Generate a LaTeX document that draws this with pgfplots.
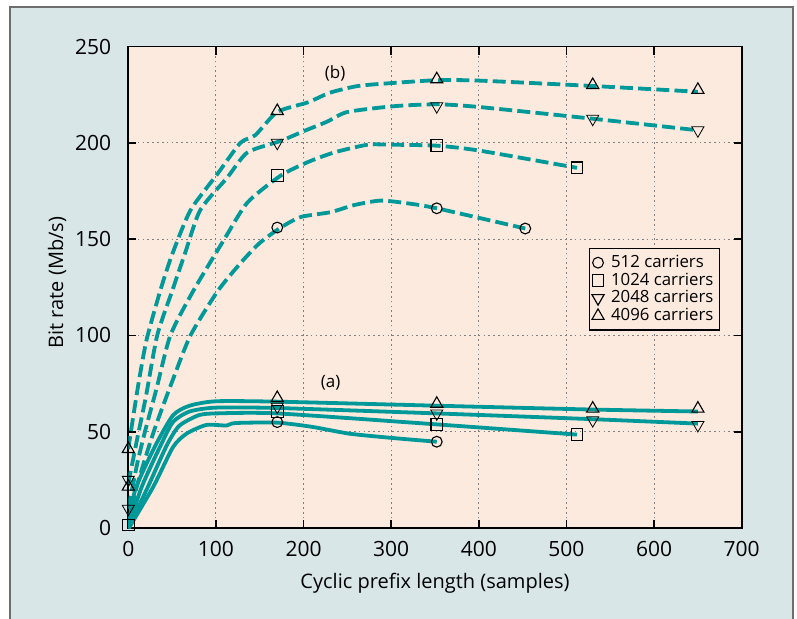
\documentclass[border=0pt]{standalone}
\usepackage{fontspec}
\setmainfont{Open Sans}
\usepackage{pgfplots}
\pgfplotsset{compat=1.18}

\definecolor{panel}{RGB}{217,230,232}
\definecolor{plotbg}{RGB}{251,234,221}
\definecolor{cpteal}{RGB}{0,153,153}
\definecolor{framegray}{RGB}{110,110,110}

\pgfplotsset{
  bline/.style={cpteal, line width=1.9pt, smooth, tension=0.4, dash pattern=on 6.5pt off 2.6pt, forget plot},
  aline/.style={cpteal, line width=1.9pt, smooth, tension=0.4, forget plot},
  mk/.style={only marks, mark options={fill=white, draw=black, line width=0.55pt, solid}},
}

\begin{document}
\begin{tikzpicture}
\path[use as bounding box, fill=white] (-64.15pt,-45pt) rectangle (334.35pt,264pt);
\fill[panel] (-59.15pt,-46pt) rectangle (332.35pt,260.5pt);
\draw[framegray, line width=0.75pt] (-59.15pt,-46pt) -- (-59.15pt,260.5pt) -- (332.35pt,260.5pt) -- (332.35pt,-46pt);
\begin{axis}[
  at={(0pt,0pt)}, anchor=south west,
  width=306.7pt, height=240.75pt, scale only axis,
  xmin=0, xmax=700, ymin=0, ymax=250,
  xtick={0,100,...,700}, ytick={0,50,...,250},
  tick align=inside, major tick length=4pt,
  grid=major,
  major grid style={gray, line width=0.5pt, dash pattern=on 0.8pt off 1.6pt},
  axis background/.style={fill=plotbg},
  axis line style={line width=0.8pt},
  every tick/.style={black, line width=0.8pt},
  ticklabel style={font=\fontsize{10.5}{12}\selectfont},
  /pgf/number format/assume math mode=true,
  xticklabel style={yshift=-3pt},
  yticklabel style={xshift=-5pt},
  xlabel={Cyclic prefix length (samples)},
  ylabel={Bit rate (Mb/s)},
  label style={font=\fontsize{10}{12}\selectfont},
  xlabel style={at={(axis description cs:0.5,-0.114)}, anchor=center},
  ylabel style={at={(axis description cs:-0.116,0.51)}, anchor=center},
  legend style={at={(rel axis cs:0.751,0.5815)}, anchor=north west,
    fill=plotbg, draw=black, line width=0.6pt,
    font=\fontsize{8.4}{9}\selectfont, inner sep=1.2pt, row sep=-2.8pt,
    /tikz/every odd column/.append style={column sep=1.5pt}},
  legend cell align=left,
]
% (b) dashed curves
\addplot[bline] coordinates {(0,1) (10,22) (29,50) (50,76) (71,100) (102,123) (128,137.5) (150,148) (174,156) (197,161.5) (231,164) (258,167.7) (288,170) (320,168.5) (352,166) (453,155.5)};
\addplot[bline] coordinates {(0,10) (10,33) (19,50) (32,72) (48,100) (74,123) (109,149.5) (136,169) (174,183) (205,190) (235,195) (273,199) (300,199) (352,198.5) (400,196) (512,187)};
\addplot[bline] coordinates {(0,23) (10,46) (20,68) (33,100) (50,123) (65,143) (82,165) (113,182) (136,195) (174,201) (200,206) (227,211) (250,216) (303,219) (352,220) (400,218.6) (530,212.5) (650,206.5)};
\addplot[bline] coordinates {(0,41) (5,56) (12,76) (21,98) (37,124) (50,142) (71,165) (102,184) (128,200) (145,204) (170,216) (205,221) (230,226) (262,229.5) (300,231) (352,232.5) (400,232.3) (530,229.5) (650,226.5)};
% (a) solid curves
\addplot[aline] coordinates {(0,-0.5) (28.5,21.4) (51,42) (66.5,49) (89,53.5) (112,53.2) (122,54.5) (170,54.7) (210,52.5) (252,49) (300,46.8) (352,44.8)};
\addplot[aline] coordinates {(0,0) (22,21) (44,43) (58,53) (80,58.5) (100,59.5) (170,59.5) (352,53.8) (512,48.5)};
\addplot[aline] coordinates {(0,0) (15,21) (36,42) (51,55) (70,60.5) (100,62.5) (170,62.3) (352,59.5) (530,56.5) (650,54.2)};
\addplot[aline] coordinates {(0,0) (8,20) (30,42) (51,58.5) (70,63.5) (100,65.8) (170,65.6) (352,63.5) (530,61.5) (650,60.5)};
% markers
\addplot[mk, mark=o, mark size=2.7pt] coordinates {(0,-1) (170,55) (352,44.8) (170,156) (352,166) (453,155.5)};
\addlegendentry{512 carriers}
\addplot[mk, mark=square, mark size=2.9pt] coordinates {(0,1.5) (170,60.5) (352,53.7) (512,48.5) (170,183) (352,198.5) (512,187)};
\addlegendentry{1024 carriers}
\addplot[mk, mark=triangle, mark size=3.5pt, mark options={rotate=180}] coordinates {(0,10) (0,25) (170,63) (352,59.5) (530,56) (650,53.5) (170,200) (352,219) (530,212.5) (650,206.5)};
\addlegendentry{2048 carriers}
\addplot[mk, mark=triangle, mark size=3.5pt] coordinates {(0,21.5) (0,41) (170,67.5) (352,64.5) (530,62) (650,62) (170,216.5) (352,233) (530,230) (650,227.5)};
\addlegendentry{4096 carriers}
\node[font=\fontsize{8.5}{10}\selectfont] at (axis cs:236,236) {(b)};
\node[font=\fontsize{8.5}{10}\selectfont] at (axis cs:231,75.5) {(a)};
\end{axis}
\end{tikzpicture}
\end{document}
